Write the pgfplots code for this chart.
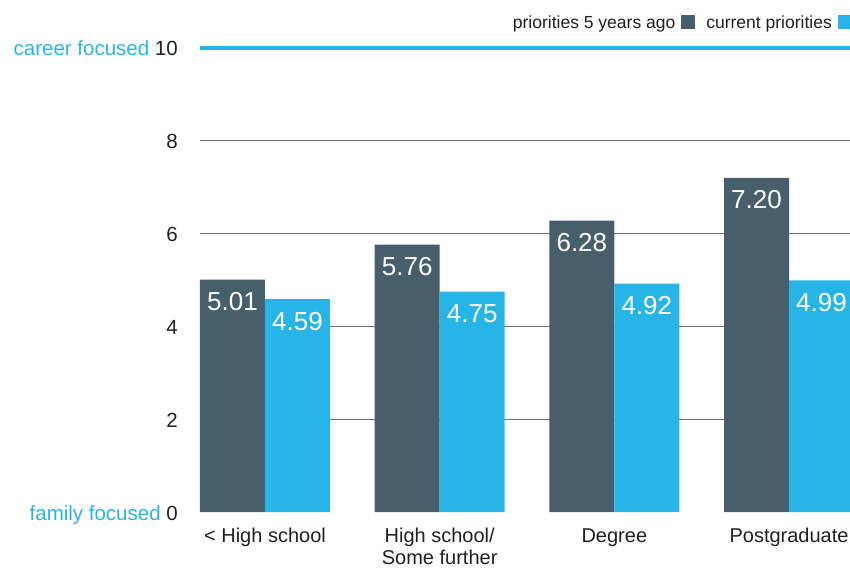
\documentclass[border=0pt]{standalone}
\usepackage{pgfplots}
\pgfplotsset{compat=1.18}
\usepackage{fontspec}
\setmainfont{Liberation Sans}
\definecolor{darkbar}{HTML}{465F6B}
\definecolor{lightbar}{HTML}{27B5E8}
\definecolor{txt}{HTML}{231F20}
\definecolor{gridc}{HTML}{707070}
\begin{document}
\begin{tikzpicture}
\begin{axis}[
  scale only axis, width=650bp, height=464bp,
  xmin=-0.372, xmax=3.349, ymin=0, ymax=10,
  ybar, bar width=65bp,
  axis line style={draw=none},
  tick style={draw=none},
  xtick={0,1,2,3},
  xticklabels={{< High school},{High school/\\Some further},{Degree},{Postgraduate}},
  xticklabel style={align=center, font=\fontsize{20bp}{22bp}\selectfont, text=txt, anchor=north, inner sep=0pt, yshift=-12bp},
  ytick={0,2,4,6,8,10},
  yticklabels={{\textcolor{lightbar}{family focused} 0},2,4,6,8,{\textcolor{lightbar}{career focused} 10}},
  yticklabel style={font=\fontsize{20.5bp}{23bp}\selectfont, text=txt, anchor=base east, inner sep=0pt, xshift=-22bp, yshift=-8bp},
  extra y ticks={2,4,6,8},
  extra y tick labels={},
  extra y tick style={grid=major, major grid style={gridc, line width=1bp}},
  nodes near coords,
  every node near coord/.append style={anchor=base, yshift=-31bp, text=white, font=\fontsize{26bp}{26bp}\selectfont},
  /pgf/number format/.cd, fixed, fixed zerofill, precision=2, assume math mode=true,
  /pgfplots/.cd,
  clip=false,
]
\addplot[fill=darkbar, draw=none, bar shift=-32.5bp] coordinates {(0,5.01) (1,5.76) (2,6.28) (3,7.20)};
\addplot[fill=lightbar, draw=none, bar shift=32.5bp] coordinates {(0,4.59) (1,4.75) (2,4.92) (3,4.99)};
\draw[lightbar, line width=4.5bp] (rel axis cs:0,1) -- (rel axis cs:1,1);
\coordinate (o) at (rel axis cs:0,0);
\node[anchor=base east, font=\fontsize{17.5bp}{20bp}\selectfont, text=txt, inner sep=0pt] at (rel axis cs:1,1) [yshift=19bp, xshift=2bp]
 {priorities 5 years ago\hspace{6bp}\textcolor{darkbar}{\rule{14bp}{14bp}}\hspace{11bp}current priorities\hspace{6bp}\textcolor{lightbar}{\rule{14bp}{14bp}}};
\end{axis}
\pgfresetboundingbox
\path ([shift={(-200bp,-56bp)}]o) rectangle ([shift={(650bp,512bp)}]o);
\end{tikzpicture}
\end{document}
